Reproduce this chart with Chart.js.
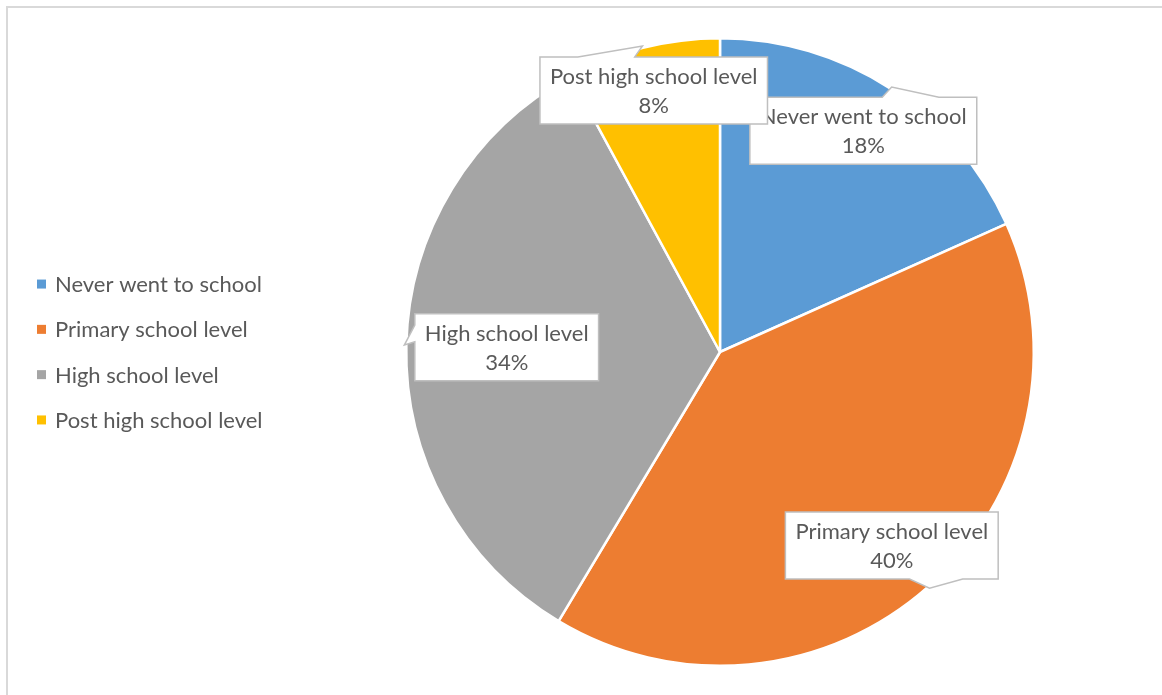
<!DOCTYPE html>
<html>
<head>
<meta charset="utf-8">
<script src="https://cdn.jsdelivr.net/npm/chart.js@4"></script>
<style>
  html, body { margin: 0; padding: 0; background: #ffffff; }
  #wrap { width: 1162px; height: 695px; position: relative; overflow: hidden; }
  canvas { display: block; }
</style>
</head>
<body>
<div id="wrap"><canvas id="c" width="1162" height="695"></canvas></div>
<script>
// ---- data ----
const categories = ['Never went to school', 'Primary school level', 'High school level', 'Post high school level'];
const shares = [18.3, 40.3, 33.5, 7.9];
const sliceColors = ['#5B9BD5', '#ED7D31', '#A5A5A5', '#FFC000'];
// distance of each data label box centre from the pie centre, as a fraction of radius
const labelDistance = [0.84, 0.825, 0.68, 0.86];

const FONT_FAMILY = 'Lato, "Open Sans", "Liberation Sans", sans-serif';
const FONT_SIZE = 22;
const TEXT_COLOR = '#595959';

const frameBorder = {
  id: 'frameBorder',
  beforeDraw(chart) {
    const ctx = chart.ctx;
    ctx.save();
    ctx.fillStyle = '#ffffff';
    ctx.fillRect(0, 0, chart.width, chart.height);
    ctx.strokeStyle = '#d9d9d9';
    ctx.lineWidth = 2;
    ctx.strokeRect(7, 7, chart.width + 50, chart.height + 50);
    ctx.restore();
  }
};

const sideLegend = {
  id: 'sideLegend',
  afterDraw(chart) {
    const ctx = chart.ctx;
    const ds = chart.data.datasets[0];
    const n = chart.data.labels.length;
    const cy = (chart.chartArea.top + chart.chartArea.bottom) / 2;
    const step = 45.3;
    ctx.save();
    ctx.font = FONT_SIZE + 'px ' + FONT_FAMILY;
    ctx.textBaseline = 'middle';
    ctx.textAlign = 'left';
    chart.data.labels.forEach((lab, i) => {
      const y = cy + (i - (n - 1) / 2) * step;
      ctx.fillStyle = ds.backgroundColor[i];
      ctx.fillRect(37, y - 4.5, 9, 9);
      ctx.fillStyle = TEXT_COLOR;
      ctx.fillText(lab, 55, y + 1);
    });
    ctx.restore();
  }
};

const calloutLabels = {
  id: 'calloutLabels',
  afterDatasetsDraw(chart) {
    const ctx = chart.ctx;
    const meta = chart.getDatasetMeta(0);
    const data = chart.data.datasets[0].data;
    const total = data.reduce((a, b) => a + b, 0);
    ctx.save();
    ctx.font = FONT_SIZE + 'px ' + FONT_FAMILY;
    meta.data.forEach((arc, i) => {
      const p = arc.getProps(['x', 'y', 'startAngle', 'endAngle', 'outerRadius'], true);
      const mid = (p.startAngle + p.endAngle) / 2;
      const r = p.outerRadius;
      const cx = p.x + Math.cos(mid) * r * labelDistance[i];
      const cy = p.y + Math.sin(mid) * r * labelDistance[i];
      const tx = p.x + Math.cos(mid) * (r + 2);
      const ty = p.y + Math.sin(mid) * (r + 2);
      const line1 = chart.data.labels[i];
      const line2 = Math.round(data[i] / total * 100) + '%';
      const w = Math.max(ctx.measureText(line1).width, ctx.measureText(line2).width) + 20;
      const h = 67;
      const L = cx - w / 2, R = cx + w / 2, T = cy - h / 2, B = cy + h / 2;
      const dxn = (tx - cx) / w, dyn = (ty - cy) / h;
      let side;
      if (Math.abs(dxn) > Math.abs(dyn)) side = dxn < 0 ? 'left' : 'right';
      else side = dyn < 0 ? 'top' : 'bottom';
      const pts = [];
      pts.push([L, T]);
      if (side === 'top') {
        const a = tx < cx ? [2, 5] : [7, 10];
        pts.push([L + w * a[0] / 12, T], [tx, ty], [L + w * a[1] / 12, T]);
      }
      pts.push([R, T]);
      if (side === 'right') {
        const a = ty < cy ? [2, 5] : [7, 10];
        pts.push([R, T + h * a[0] / 12], [tx, ty], [R, T + h * a[1] / 12]);
      }
      pts.push([R, B]);
      if (side === 'bottom') {
        const a = tx < cx ? [2, 5] : [7, 10];
        pts.push([L + w * a[1] / 12, B], [tx, ty], [L + w * a[0] / 12, B]);
      }
      pts.push([L, B]);
      if (side === 'left') {
        const a = ty < cy ? [2, 5] : [7, 10];
        pts.push([L, T + h * a[1] / 12], [tx, ty], [L, T + h * a[0] / 12]);
      }
      ctx.beginPath();
      pts.forEach((pt, k) => k ? ctx.lineTo(pt[0], pt[1]) : ctx.moveTo(pt[0], pt[1]));
      ctx.closePath();
      ctx.fillStyle = '#ffffff';
      ctx.fill();
      ctx.strokeStyle = '#bfbfbf';
      ctx.lineWidth = 1.5;
      ctx.stroke();
      ctx.fillStyle = TEXT_COLOR;
      ctx.textAlign = 'center';
      ctx.textBaseline = 'middle';
      ctx.fillText(line1, cx, cy - 14.5 + 1);
      ctx.fillText(line2, cx, cy + 14.5 + 1);
    });
    ctx.restore();
  }
};

new Chart(document.getElementById('c'), {
  type: 'pie',
  data: {
    labels: categories,
    datasets: [{
      data: shares,
      backgroundColor: sliceColors,
      borderColor: '#ffffff',
      borderWidth: 2.5
    }]
  },
  options: {
    responsive: false,
    devicePixelRatio: 1,
    animation: false,
    layout: { padding: { left: 405, right: 127, top: 37, bottom: 28 } },
    plugins: {
      legend: { display: false },
      tooltip: { enabled: false },
      title: { display: false }
    }
  },
  plugins: [frameBorder, calloutLabels, sideLegend]
});
</script>
</body>
</html>
